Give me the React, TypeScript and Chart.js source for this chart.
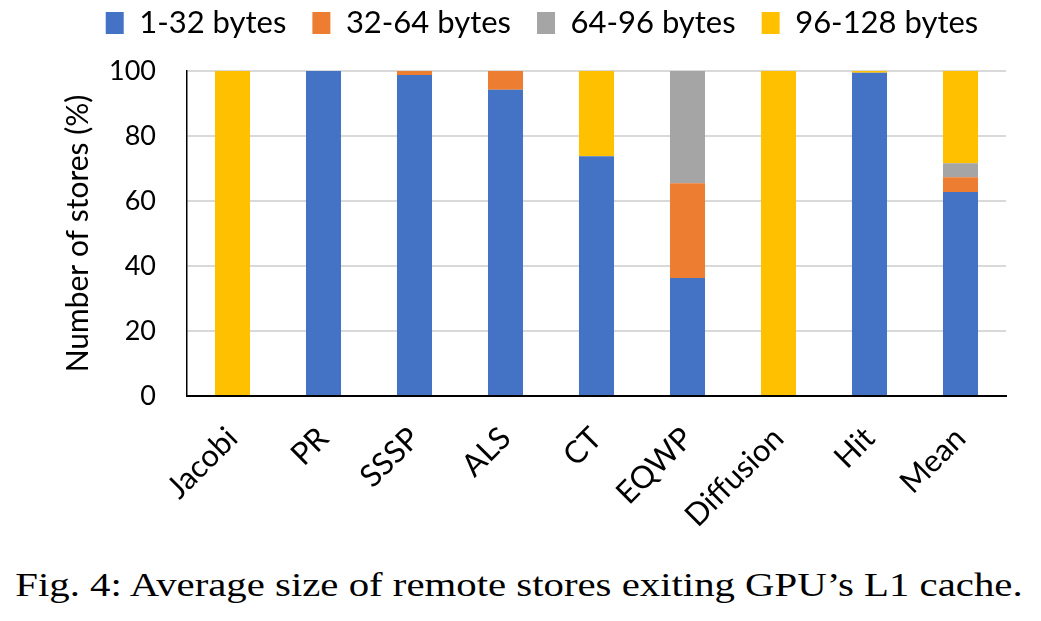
import React, { useEffect, useRef } from "react";
import { Chart, registerables } from "chart.js";

Chart.register(...registerables);

const categories = ["Jacobi", "PR", "SSSP", "ALS", "CT", "EQWP", "Diffusion", "Hit", "Mean"];
const seriesNames = ["1-32 bytes", "32-64 bytes", "64-96 bytes", "96-128 bytes"];
const bytes1to32 = [0, 100, 98.8, 94.2, 73.8, 36.3, 0, 99.5, 62.8];
const bytes32to64 = [0, 0, 1.2, 5.8, 0, 29.2, 0, 0, 4.5];
const bytes64to96 = [0, 0, 0, 0, 0, 34.5, 0, 0, 4.3];
const bytes96to128 = [100, 0, 0, 0, 26.2, 0, 100, 0.5, 28.4];
const yTicks = [0, 20, 40, 60, 80, 100];
const colors = ["#4472C4", "#ED7D31", "#A5A5A5", "#FFC000"];
const caption = "Fig. 4: Average size of remote stores exiting GPU\u2019s L1 cache.";

const FONT = "Lato";
const LEGEND_FONT = 31;
const LEGEND_PAD = 26;

const legendFix = {
  id: "legendFix",
  beforeLayout(chart: any) {
    const lg = chart.legend;
    if (lg && !lg.__patched) {
      const orig = lg.fit.bind(lg);
      lg.fit = function () {
        orig();
        this.height = 71;
      };
      lg.__patched = true;
    }
  },
  afterLayout(chart: any) {
    const lg = chart.legend;
    if (!lg) return;
    const itemH = Math.max(LEGEND_FONT, 22);
    const h = lg.bottom - lg.top;
    lg.top = 23 - LEGEND_PAD - itemH / 2;
    lg.bottom = lg.top + h;
    const shift = 542 - (lg.left + lg.right) / 2;
    lg.left += shift;
    lg.right += shift;
  },
};

export default function App() {
  const ref = useRef<HTMLCanvasElement | null>(null);
  useEffect(() => {
    if (!ref.current) return;
    const series = [bytes1to32, bytes32to64, bytes64to96, bytes96to128];
    const chart = new Chart(ref.current, {
      type: "bar",
      data: {
        labels: categories,
        datasets: series.map((d, i) => ({
          label: seriesNames[i],
          data: d,
          backgroundColor: colors[i],
          borderWidth: 0,
          barPercentage: 0.385,
          categoryPercentage: 1,
        })),
      },
      plugins: [legendFix],
      options: {
        animation: false,
        responsive: false,
        maintainAspectRatio: false,
        devicePixelRatio: 1,
        layout: { padding: { left: 0, right: 35, top: 0, bottom: 0 } },
        plugins: {
          legend: {
            position: "top",
            labels: {
              boxWidth: 18,
              boxHeight: 22,
              padding: LEGEND_PAD,
              color: "#000",
              font: { family: FONT, size: LEGEND_FONT },
            },
          },
          tooltip: { enabled: false },
        },
        scales: {
          x: {
            stacked: true,
            grid: { display: false, drawTicks: false },
            border: { display: true, color: "#000", width: 2 },
            ticks: {
              color: "#000",
              font: { family: FONT, size: 31 },
              minRotation: 45,
              maxRotation: 45,
              padding: 24,
              autoSkip: false,
            },
            afterFit: (s: any) => {
              s.height = 149;
            },
          },
          y: {
            stacked: true,
            min: 0,
            max: 100,
            afterBuildTicks: (s: any) => {
              s.ticks = yTicks.map((v) => ({ value: v }));
            },
            grid: { color: "#D9D9D9", lineWidth: 2, drawTicks: false },
            border: { display: true, color: "#000", width: 1.5 },
            ticks: {
              color: "#000",
              font: { family: FONT, size: 27 },
              padding: 31,
            },
            title: {
              display: true,
              text: "Number of stores (%)",
              color: "#000",
              font: { family: FONT, size: 30 },
              padding: { top: 60, bottom: 0 },
            },
            afterFit: (s: any) => {
              s.width = 187;
            },
          },
        },
      },
    });
    return () => chart.destroy();
  }, []);

  return (
    <div style={{ position: "absolute", left: 0, top: 0, width: 1041, height: 621, background: "#fff" }}>
      <canvas ref={ref} width={1041} height={545} style={{ display: "block", width: 1041, height: 545 }} />
      <div
        style={{
          position: "absolute",
          left: 0,
          top: 569,
          width: 1041,
          textAlign: "center",
          fontFamily: "'Liberation Serif', 'Times New Roman', serif",
          fontSize: 33,
          lineHeight: "33px",
          color: "#000",
          whiteSpace: "nowrap",
          transform: "scaleX(1.236)",
          transformOrigin: "527px 0",
        }}
      >
        {caption}
      </div>
    </div>
  );
}
